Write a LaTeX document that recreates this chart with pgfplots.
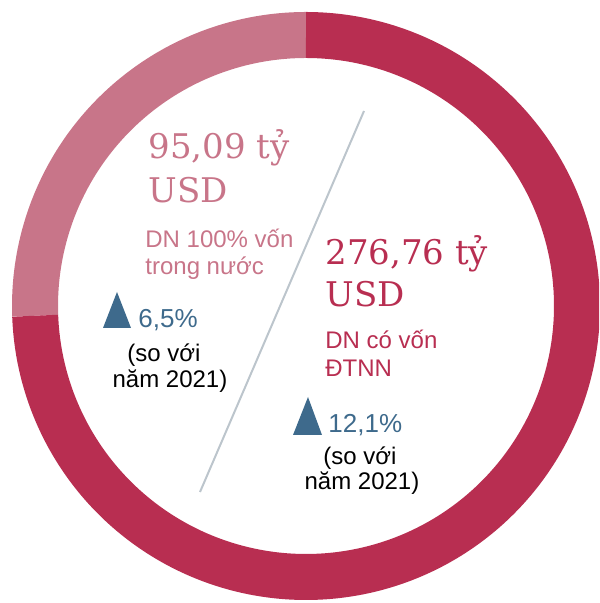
\documentclass[border=0pt]{standalone}
\usepackage{pgfplots}
\pgfplotsset{compat=1.18}
\usepackage{fontspec}
\setmainfont{Liberation Sans}
\newfontfamily\bignum{DejaVu Serif}

\definecolor{lightseg}{HTML}{C87589}
\definecolor{darkseg}{HTML}{B82E51}
\definecolor{upblue}{HTML}{3E6A8C}
\definecolor{divline}{HTML}{BCC5CC}

% values (ty USD)
\def\vDomestic{95.09}
\def\vFDI{276.76}
\pgfmathsetmacro{\angSplit}{90+360*(\vDomestic/(\vDomestic+\vFDI))}

\begin{document}
\begin{tikzpicture}
\useasboundingbox (0,0) rectangle (299.5pt,301.5pt);
\begin{axis}[
    at={(0,0)}, anchor=origin,
    x=0.5pt, y=0.5pt,
    xmin=0, xmax=599, ymin=0, ymax=603,
    hide axis,
    clip=true]
    % donut: 100% domestic (light) and FDI (dark)
    \addplot[draw=lightseg, line width=23pt, domain=90:\angSplit, samples=120, smooth]
        ({306+271*cos(x)}, {297+271*sin(x)});
    \addplot[draw=darkseg, line width=23pt, domain=\angSplit:450, samples=240, smooth]
        ({306+271*cos(x)}, {297+271*sin(x)});
    % divider
    \addplot[divline, line width=1pt, mark=none] coordinates {(364,492) (200,111)};

    % left block
    \node[anchor=base west, inner sep=0, text=lightseg, font=\bignum\fontsize{17pt}{20pt}\selectfont] at (axis cs:148,444) {95,09 tỷ};
    \node[anchor=base west, inner sep=0, text=lightseg, font=\bignum\fontsize{17pt}{20pt}\selectfont] at (axis cs:148,400) {USD};
    \node[anchor=base west, inner sep=0, text=lightseg, font=\fontsize{12pt}{14pt}\selectfont] at (axis cs:145,355) {DN 100\% vốn};
    \node[anchor=base west, inner sep=0, text=lightseg, font=\fontsize{12pt}{14pt}\selectfont] at (axis cs:145,328) {trong nước};
    \fill[upblue] (axis cs:117,311) -- (axis cs:131,275) -- (axis cs:103,275) -- cycle;
    \node[anchor=base west, inner sep=0, text=upblue, font=\fontsize{13pt}{15pt}\selectfont] at (axis cs:138,275) {6,5\%};
    \node[anchor=base, inner sep=0, font=\fontsize{12pt}{14pt}\selectfont] at (axis cs:164,241) {(so với};
    \node[anchor=base, inner sep=0, font=\fontsize{12pt}{14pt}\selectfont] at (axis cs:170,215) {năm 2021)};

    % right block
    \node[anchor=base west, inner sep=0, text=darkseg, font=\bignum\fontsize{17pt}{20pt}\selectfont] at (axis cs:325,338) {276,76 tỷ};
    \node[anchor=base west, inner sep=0, text=darkseg, font=\bignum\fontsize{17pt}{20pt}\selectfont] at (axis cs:325,296) {USD};
    \node[anchor=base west, inner sep=0, text=darkseg, font=\fontsize{12pt}{14pt}\selectfont] at (axis cs:325,254) {DN có vốn};
    \node[anchor=base west, inner sep=0, text=darkseg, font=\fontsize{12pt}{14pt}\selectfont] at (axis cs:325,226) {ĐTNN};
    \fill[upblue] (axis cs:308,206) -- (axis cs:322,168) -- (axis cs:293,168) -- cycle;
    \node[anchor=base west, inner sep=0, text=upblue, font=\fontsize{13pt}{15pt}\selectfont] at (axis cs:328,170) {12,1\%};
    \node[anchor=base, inner sep=0, font=\fontsize{12pt}{14pt}\selectfont] at (axis cs:360,138) {(so với};
    \node[anchor=base, inner sep=0, font=\fontsize{12pt}{14pt}\selectfont] at (axis cs:362,113) {năm 2021)};
\end{axis}
\end{tikzpicture}
\end{document}
